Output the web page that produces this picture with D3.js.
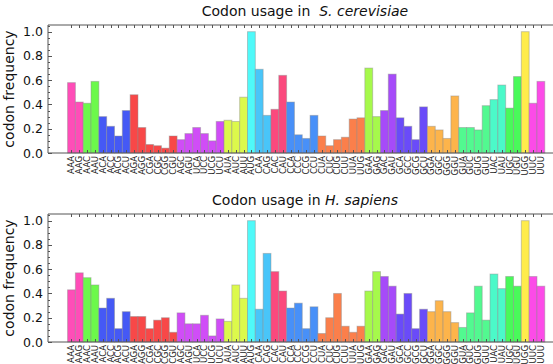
<!DOCTYPE html>
<html>
<head>
<meta charset="utf-8">
<script src="https://cdn.jsdelivr.net/npm/d3@7"></script>
<style>
  body { margin: 0; background: #fff; }
  svg { display: block; font-family: "DejaVu Sans", sans-serif; }
</style>
</head>
<body>
<div id="chart"></div>
<script>
// codons, grouped by amino acid (stop codons left out)
var codons = ["AAA","AAG","AAC","AAU","ACA","ACC","ACG","ACU","AGA","AGG","CGA","CGC","CGG","CGU",
    "AGC","AGU","UCA","UCC","UCG","UCU","AUA","AUC","AUU","AUG","CAA","CAG","CAC","CAU",
    "CCA","CCC","CCG","CCU","CUA","CUC","CUG","CUU","UUA","UUG","GAA","GAG","GAC","GAU",
    "GCA","GCC","GCG","GCU","GGA","GGC","GGG","GGU","GUA","GUC","GUG","GUU","UAC","UAU",
    "UGC","UGU","UGG","UUC","UUU"];

var aminoAcids = ["Lys","Asn","Thr","Arg","Ser","Ile","Met","Gln","His","Pro","Leu",
    "Glu","Asp","Ala","Gly","Val","Tyr","Cys","Trp","Phe"];
var aaCodonCount = [2,2,4,6,6,3,1,2,2,4,6,2,2,4,4,4,2,2,1,2];
var aaColors = ["#ff4db8","#6cf94b","#4559f5","#f84848","#d04df7","#dcf94b","#4ff9f9",
    "#49c5f9","#fb497d","#4890f8","#fb7f4b","#a6f94b","#a64bf9","#6a4bf9","#fdb44b",
    "#52f990","#4bf9c9","#49f95a","#ffec4b","#fc4be8"];

var yeastFreq = [0.58,0.42,0.41,0.59,0.30,0.22,0.14,0.35,0.48,0.21,0.07,0.06,0.04,0.14,
    0.11,0.16,0.21,0.16,0.10,0.26,0.27,0.26,0.46,1.00,0.69,0.31,0.36,0.64,
    0.42,0.15,0.12,0.31,0.14,0.06,0.11,0.13,0.28,0.29,0.70,0.30,0.35,0.65,
    0.29,0.22,0.11,0.38,0.22,0.19,0.12,0.47,0.21,0.21,0.19,0.39,0.44,0.56,
    0.37,0.63,1.00,0.41,0.59];

var humanFreq = [0.43,0.57,0.53,0.47,0.28,0.36,0.11,0.25,0.21,0.21,0.11,0.18,0.20,0.08,
    0.24,0.15,0.15,0.22,0.05,0.19,0.17,0.47,0.36,1.00,0.27,0.73,0.58,0.42,
    0.28,0.32,0.11,0.29,0.07,0.20,0.40,0.13,0.08,0.13,0.42,0.58,0.54,0.46,
    0.23,0.40,0.11,0.27,0.25,0.34,0.25,0.16,0.12,0.24,0.46,0.18,0.56,0.44,
    0.54,0.46,1.00,0.54,0.46];

var yTicks = [0, 0.2, 0.4, 0.6, 0.8, 1.0];

// color per codon from its amino acid group
var codonColor = [];
aaCodonCount.forEach(function (n, i) {
    for (var k = 0; k < n; k++) codonColor.push(aaColors[i]);
});

var width = 553, height = 364;
var svg = d3.select("#chart").append("svg")
    .attr("width", width)
    .attr("height", height);

function drawPanel(top, values, titleParts) {
    var left = 48, right = 562, plotH = 128;
    var x = d3.scaleLinear().domain([-3, 62.7]).range([left, right]);
    var y = d3.scaleLinear().domain([0, 1.055]).range([top + plotH, top]);
    var g = svg.append("g");

    // bars
    g.selectAll("rect.bar")
        .data(values)
        .enter().append("rect")
        .attr("class", "bar")
        .attr("x", function (d, i) { return x(i - 0.5); })
        .attr("width", x(1) - x(0))
        .attr("y", function (d) { return y(d); })
        .attr("height", function (d) { return y(0) - y(d); })
        .style("fill", function (d, i) { return codonColor[i]; })
        .style("stroke", "rgba(140,140,140,0.45)")
        .style("stroke-width", 1);

    // frame (right side is off the picture)
    g.append("path")
        .attr("d", "M" + right + "," + top + "H" + left + "V" + (top + plotH) + "H" + right)
        .style("fill", "none")
        .style("stroke", "#555")
        .style("stroke-width", 1);

    // x ticks, inward on bottom and top
    codons.forEach(function (c, i) {
        var xi = Math.round(x(i)) + 0.5;
        g.append("line").attr("x1", xi).attr("x2", xi)
            .attr("y1", y(0)).attr("y2", y(0) - 3).style("stroke", "#555");
        g.append("line").attr("x1", xi).attr("x2", xi)
            .attr("y1", top).attr("y2", top + 3).style("stroke", "#555");
    });

    // x labels
    g.selectAll("text.xl")
        .data(codons)
        .enter().append("text")
        .attr("class", "xl")
        .attr("transform", function (d, i) {
            return "translate(" + (x(i) + 3) + "," + (y(0) + 3) + ") rotate(-90)";
        })
        .attr("text-anchor", "end")
        .style("font-size", "8.5px")
        .style("fill", "#222")
        .text(function (d) { return d; });

    // y ticks
    d3.range(0, 1.051, 0.05).forEach(function (v) {
        var yy = Math.round(y(v)) + 0.5;
        var major = Math.abs(v * 5 - Math.round(v * 5)) < 1e-6;
        g.append("line").attr("x1", left).attr("x2", left + (major ? 4 : 2))
            .attr("y1", yy).attr("y2", yy).style("stroke", "#555");
    });
    g.selectAll("text.yl")
        .data(yTicks)
        .enter().append("text")
        .attr("class", "yl")
        .attr("x", left - 5)
        .attr("y", function (d) { return y(d) + 4.5; })
        .attr("text-anchor", "end")
        .style("font-size", "12.5px")
        .style("fill", "#111")
        .text(function (d) { return d.toFixed(1); });

    // y label
    g.append("text")
        .attr("transform", "translate(14," + (top + plotH / 2) + ") rotate(-90)")
        .attr("text-anchor", "middle")
        .style("font-size", "14px")
        .style("fill", "#111")
        .text("codon frequency");

    // title
    var t = g.append("text")
        .attr("x", (left + right) / 2)
        .attr("y", top - 9)
        .attr("text-anchor", "middle")
        .style("font-size", "14px")
        .style("white-space", "pre")
        .style("fill", "#111");
    t.append("tspan").text(titleParts[0]);
    t.append("tspan").style("font-style", "italic").text(titleParts[1]);
}

drawPanel(25, yeastFreq, ["Codon usage in  ", "S. cerevisiae"]);
drawPanel(214, humanFreq, ["Codon usage in ", "H. sapiens"]);
</script>
</body>
</html>
